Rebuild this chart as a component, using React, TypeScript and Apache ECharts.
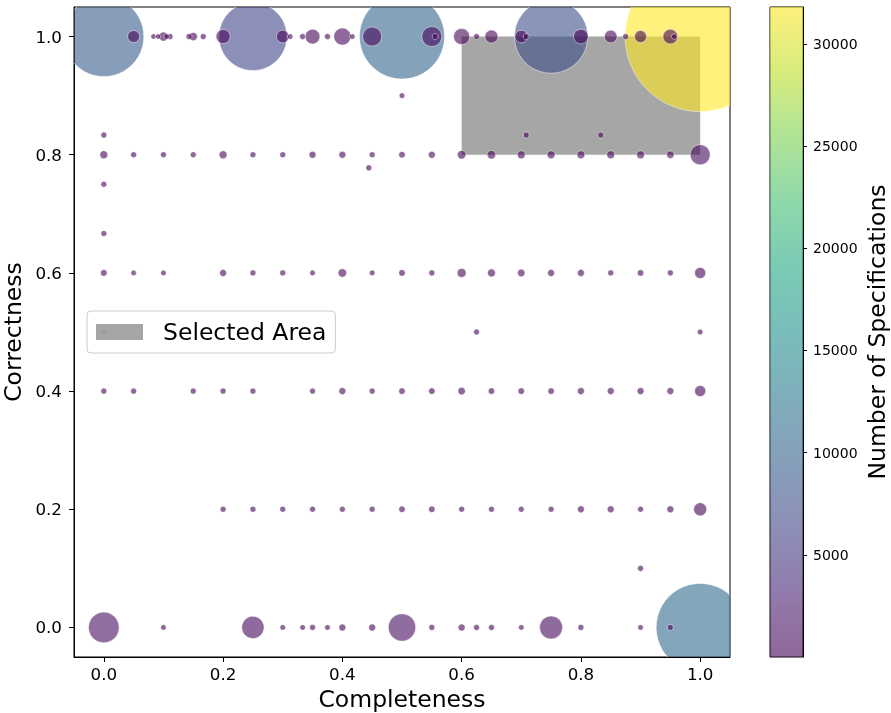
import React, { useEffect, useRef } from "react";
import * as echarts from "echarts";

// ---- data ----
// each row: completeness values (x), fixed correctness (y), number of specifications
const row100Y = 1.0;
const row100X = [0, 0.05, 0.0833, 0.0909, 0.1, 0.1053, 0.1111, 0.1429, 0.15, 0.1667, 0.2, 0.25, 0.3, 0.3125, 0.3333, 0.35, 0.375, 0.4, 0.4167, 0.45, 0.5, 0.55, 0.5556, 0.6, 0.625, 0.65, 0.7, 0.7083, 0.75, 0.8, 0.85, 0.875, 0.9, 0.95, 0.9565, 1.0];
const row100C = [9010, 168, 5, 5, 79, 5, 15, 15, 60, 15, 242, 6500, 190, 8, 15, 270, 15, 373, 8, 475, 10180, 530, 15, 327, 15, 203, 190, 15, 7560, 270, 190, 15, 168, 270, 8, 31800];

const row080Y = 0.8;
const row080X = [0, 0.05, 0.1, 0.15, 0.2, 0.25, 0.3, 0.35, 0.4, 0.45, 0.5, 0.55, 0.6, 0.65, 0.7, 0.75, 0.8, 0.85, 0.9, 0.95, 1.0];
const row080C = [55, 15, 15, 15, 55, 15, 15, 34, 34, 15, 25, 34, 67, 67, 55, 55, 55, 55, 55, 44, 530];

const row060Y = 0.6;
const row060X = [0, 0.05, 0.1, 0.2, 0.25, 0.3, 0.35, 0.4, 0.45, 0.5, 0.55, 0.6, 0.65, 0.7, 0.75, 0.8, 0.85, 0.9, 0.95, 1.0];
const row060C = [28, 8, 8, 34, 15, 15, 8, 67, 8, 24, 15, 79, 55, 44, 34, 34, 15, 24, 15, 136];

const row040Y = 0.4;
const row040X = [0, 0.05, 0.15, 0.2, 0.25, 0.35, 0.4, 0.45, 0.5, 0.55, 0.6, 0.65, 0.7, 0.75, 0.8, 0.85, 0.9, 0.95, 1.0];
const row040C = [15, 15, 15, 15, 15, 15, 34, 15, 24, 24, 44, 24, 24, 24, 34, 34, 34, 34, 136];

const row020Y = 0.2;
const row020X = [0.2, 0.25, 0.3, 0.35, 0.4, 0.45, 0.5, 0.55, 0.6, 0.65, 0.7, 0.75, 0.8, 0.85, 0.9, 0.95, 1.0];
const row020C = [15, 15, 15, 15, 15, 15, 24, 24, 15, 15, 15, 15, 34, 34, 15, 34, 203];

const row000Y = 0.0;
const row000X = [0, 0.1, 0.25, 0.3, 0.3333, 0.35, 0.375, 0.4, 0.45, 0.5, 0.55, 0.6, 0.625, 0.65, 0.7, 0.75, 0.8, 0.9, 0.95, 1.0];
const row000C = [1297, 8, 668, 8, 8, 15, 8, 34, 34, 1026, 15, 34, 15, 15, 8, 712, 15, 8, 15, 10910];

// isolated points: [completeness, correctness, count]
const extraPoints: [number, number, number][] = [
  [0.5, 0.9, 8],
  [0, 0.8333, 15],
  [0.7083, 0.8333, 15],
  [0.8333, 0.8333, 15],
  [0.4444, 0.7778, 15],
  [0, 0.75, 15],
  [0, 0.6667, 15],
  [0, 0.5, 15],
  [0.625, 0.5, 15],
  [1.0, 0.5, 8],
  [0.9, 0.1, 15],
];

// selected area: [x0, y0, x1, y1]
const selectedArea = [0.6, 0.8, 1.0, 1.0];

const xTicks = [0, 0.2, 0.4, 0.6, 0.8, 1.0];
const yTicks = [0, 0.2, 0.4, 0.6, 0.8, 1.0];
const cbTicks = [5000, 10000, 15000, 20000, 25000, 30000];
const countMin = 0;
const countMax = 31800;

const viridis = ["#440154", "#482475", "#414487", "#355f8d", "#2a788e", "#21918c", "#22a884", "#44bf70", "#7ad151", "#bddf26", "#fde725"];

const FONT = "DejaVu Sans";
const BIG = 23.5;

export default function App() {
  const ref = useRef<HTMLDivElement>(null);

  useEffect(() => {
    if (!ref.current) return;
    const chart = echarts.init(ref.current, undefined, { renderer: "svg" });

    const rows: [number[], number, number[]][] = [
      [row100X, row100Y, row100C],
      [row080X, row080Y, row080C],
      [row060X, row060Y, row060C],
      [row040X, row040Y, row040C],
      [row020X, row020Y, row020C],
      [row000X, row000Y, row000C],
    ];
    const points: [number, number, number][] = [];
    rows.forEach(([xs, y, cs]) => xs.forEach((x, i) => points.push([x, y, cs[i]])));
    extraPoints.forEach((p) => points.push(p));
    points.sort((a, b) => b[2] - a[2]);

    const axisCommon = {
      axisLine: { show: true, onZero: false, lineStyle: { color: "#000", width: 1 } },
      axisTick: { show: true, inside: false, length: 5, lineStyle: { color: "#000", width: 1 } },
      splitLine: { show: false },
    };

    const option: any = {
      animation: false,
      textStyle: { fontFamily: FONT },
      grid: [
        { left: 74, top: 7, width: 656, height: 650, containLabel: false, outerBoundsMode: "none", show: true, borderColor: "#000", borderWidth: 1, backgroundColor: "transparent" },
        { left: 770, top: 7, width: 33, height: 650, containLabel: false, outerBoundsMode: "none", show: true, borderColor: "#000", borderWidth: 1, backgroundColor: "transparent" },
      ],
      xAxis: [
        {
          type: "value",
          gridIndex: 0,
          min: -0.05,
          max: 1.05,
          name: "Completeness",
          nameLocation: "middle",
          nameGap: 30,
          nameTextStyle: { fontSize: BIG, color: "#000", fontFamily: FONT },
          ...axisCommon,
          axisTick: { ...axisCommon.axisTick, customValues: xTicks },
          axisLabel: { fontSize: 16.7, color: "#000", margin: 8, fontFamily: FONT, customValues: xTicks, formatter: (v: number) => v.toFixed(1) },
        },
        { type: "category", gridIndex: 1, data: ["cb"], show: false, boundaryGap: true },
      ],
      yAxis: [
        {
          type: "value",
          gridIndex: 0,
          min: -0.05,
          max: 1.05,
          name: "Correctness",
          nameLocation: "middle",
          nameGap: 41,
          nameTextStyle: { fontSize: BIG, color: "#000", fontFamily: FONT },
          ...axisCommon,
          axisTick: { ...axisCommon.axisTick, customValues: yTicks },
          axisLabel: { fontSize: 16.7, color: "#000", margin: 12, fontFamily: FONT, customValues: yTicks, formatter: (v: number) => v.toFixed(1) },
        },
        {
          type: "value",
          gridIndex: 1,
          position: "right",
          min: countMin,
          max: countMax,
          name: "Number of Specifications",
          nameLocation: "middle",
          nameGap: 62,
          nameRotate: 90,
          nameTextStyle: { fontSize: BIG, color: "#000", fontFamily: FONT },
          axisLine: { show: true, lineStyle: { color: "#000", width: 1 } },
          axisTick: { show: true, inside: false, length: 4, lineStyle: { color: "#000" }, customValues: cbTicks },
          axisLabel: { fontSize: 14, color: "#000", margin: 10, fontFamily: FONT, customValues: cbTicks, formatter: (v: number) => String(v) },
          splitLine: { show: false },
        },
      ],
      visualMap: {
        type: "continuous",
        show: false,
        min: countMin,
        max: countMax,
        dimension: 2,
        seriesIndex: 1,
        inRange: { color: viridis },
      },
      legend: {
        show: true,
        data: [{ name: "Selected Area", icon: "rect" }],
        left: 87,
        top: 311,
        orient: "vertical",
        padding: [9, 9, 9, 9],
        itemWidth: 47,
        itemHeight: 16,
        backgroundColor: "rgba(255,255,255,0.8)",
        borderColor: "#cccccc",
        borderWidth: 1,
        borderRadius: 4,
        textStyle: { fontSize: BIG, color: "#000", fontFamily: FONT, padding: [0, 0, 0, 15] },
      },
      series: [
        {
          type: "custom",
          name: "Selected Area",
          xAxisIndex: 0,
          yAxisIndex: 0,
          z: 1,
          silent: true,
          itemStyle: { color: "rgba(128,128,128,0.7)" },
          data: [selectedArea],
          encode: { x: [0, 2], y: [1, 3] },
          renderItem: (params: any, api: any) => {
            const p1 = api.coord([api.value(0), api.value(3)]);
            const p2 = api.coord([api.value(2), api.value(1)]);
            return {
              type: "rect",
              shape: { x: p1[0], y: p1[1], width: p2[0] - p1[0], height: p2[1] - p1[1] },
              style: { fill: "rgba(128,128,128,0.7)" },
            };
          },
        },
        {
          type: "custom",
          name: "specs",
          xAxisIndex: 0,
          yAxisIndex: 0,
          z: 2,
          clip: true,
          silent: true,
          data: points,
          encode: { x: 0, y: 1 },
          renderItem: (params: any, api: any) => {
            const c = api.coord([api.value(0), api.value(1)]);
            const r = Math.sqrt(25 + 0.7075 * api.value(2)) / 2;
            return {
              type: "circle",
              shape: { cx: c[0], cy: c[1], r },
              style: { fill: api.visual("color"), stroke: "#ffffff", lineWidth: 0.8, opacity: 0.6 },
            };
          },
        },
        {
          type: "bar",
          name: "colorbar",
          xAxisIndex: 1,
          yAxisIndex: 1,
          barWidth: "100%",
          silent: true,
          data: [countMax],
          itemStyle: {
            opacity: 0.6,
            color: new echarts.graphic.LinearGradient(
              0, 1, 0, 0,
              viridis.map((c, i) => ({ offset: i / (viridis.length - 1), color: c }))
            ),
          },
        },
      ],
    };

    chart.setOption(option);
    return () => chart.dispose();
  }, []);

  return <div ref={ref} style={{ position: "fixed", left: 0, top: 0, width: 891, height: 713 }} />;
}
